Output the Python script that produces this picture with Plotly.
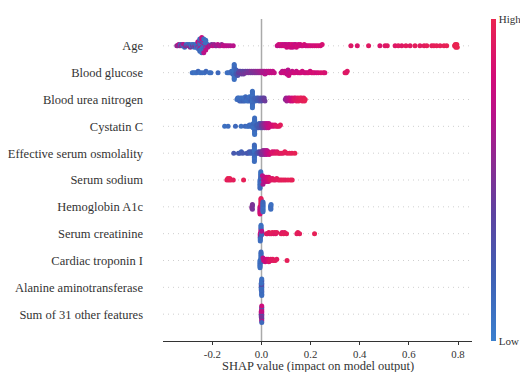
import numpy as np
import plotly.graph_objects as go

feature_names = ["Age", "Blood glucose", "Blood urea nitrogen", "Cystatin C",
                 "Effective serum osmolality", "Serum sodium", "Hemoglobin A1c",
                 "Serum creatinine", "Cardiac troponin I", "Alanine aminotransferase",
                 "Sum of 31 other features"]
x_tickvals = [-0.2, 0.0, 0.2, 0.4, 0.6, 0.8]
x_ticktext = ["-0.2", "0.0", "0.2", "0.4", "0.6", "0.8"]
x_title = "SHAP value (impact on model output)"

# ---------------- Age ----------------
age_shap = ([-0.345, -0.341, -0.337, -0.333, -0.330, -0.327, -0.323, -0.320, -0.317, -0.313, -0.310, -0.306, -0.303,
             -0.300, -0.296, -0.293, -0.290, -0.286, -0.283, -0.280, -0.277, -0.274, -0.271, -0.268, -0.265, -0.262]
            + [-0.259, -0.259, -0.259, -0.259, -0.259]
            + [-0.251, -0.251, -0.251, -0.251, -0.251, -0.251, -0.251, -0.251, -0.251, -0.251]
            + [-0.243, -0.243, -0.243, -0.243, -0.243, -0.243, -0.243, -0.243, -0.243, -0.243, -0.243, -0.243]
            + [-0.235, -0.235, -0.235, -0.235, -0.235, -0.235, -0.235, -0.235, -0.235, -0.235, -0.235]
            + [-0.227, -0.227, -0.227, -0.227, -0.227, -0.227, -0.227, -0.227]
            + [-0.219, -0.219, -0.219]
            + [-0.213, -0.208, -0.203, -0.198, -0.193, -0.188, -0.183, -0.178, -0.173, -0.168, -0.162, -0.156, -0.150,
               -0.143, -0.135, -0.126, -0.115]
            + [0.064, 0.070, 0.075, 0.079, 0.083, 0.087, 0.091, 0.094, 0.097, 0.100, 0.103, 0.106, 0.109, 0.112,
               0.115, 0.118, 0.121, 0.124, 0.127, 0.130, 0.133, 0.136, 0.139, 0.142, 0.146, 0.150, 0.154, 0.158,
               0.163, 0.168, 0.174, 0.180, 0.186, 0.193, 0.200, 0.208, 0.216, 0.224, 0.232, 0.240, 0.247]
            + [0.364, 0.390, 0.436]
            + [0.482, 0.503, 0.512, 0.544, 0.557, 0.571, 0.588, 0.605, 0.625, 0.645, 0.662, 0.673, 0.693, 0.702,
               0.713, 0.727, 0.743, 0.754]
            + [0.786, 0.789, 0.791, 0.793, 0.795, 0.797])
age_val = ([0.55, 0.60, 0.72, 0.50, 0.15, 0.60, 0.50, 0.12, 0.70, 0.15, 0.55, 0.12, 0.50,
            0.10, 0.62, 0.15, 0.50, 0.10, 0.12, 0.55, 0.10, 0.15, 0.60, 0.12, 0.10, 0.15]
           + [0.10, 0.70, 0.12, 0.10, 0.75]
           + [0.10, 0.75, 0.10, 0.12, 0.70, 0.10, 0.10, 0.72, 0.15, 0.10]
           + [0.12, 0.10, 0.75, 0.10, 0.10, 0.70, 0.10, 0.15, 0.10, 0.72, 0.10, 0.78]
           + [0.10, 0.12, 0.10, 0.72, 0.10, 0.10, 0.15, 0.75, 0.10, 0.10, 0.70]
           + [0.10, 0.15, 0.70, 0.10, 0.12, 0.10, 0.75, 0.10]
           + [0.60, 0.10, 0.70]
           + [0.60, 0.72, 0.50, 0.75, 0.60, 0.70, 0.55, 0.72, 0.65, 0.70, 0.60, 0.75, 0.70, 0.72, 0.70, 0.68, 0.70]
           + [0.75, 0.80, 0.72, 0.85, 0.78, 0.74, 0.80, 0.76, 0.82, 0.75, 0.78, 0.80, 0.74, 0.82,
              0.76, 0.80, 0.78, 0.84, 0.75, 0.80, 0.78, 0.82, 0.76, 0.80, 0.84, 0.78, 0.80, 0.82,
              0.76, 0.80, 0.84, 0.78, 0.82, 0.80, 0.85, 0.80, 0.84, 0.82, 0.86, 0.82, 0.85]
           + [0.90, 0.88, 0.92]
           + [0.88, 0.90, 0.92, 0.90, 0.93, 0.91, 0.94, 0.92, 0.95, 0.93, 0.94, 0.96, 0.95,
              0.96, 0.97, 0.96, 0.97, 0.98]
           + [0.98, 1.00, 0.97, 1.00, 0.99, 1.00])

# ---------------- Blood glucose ----------------
bg_shap = ([-0.282, -0.276, -0.270, -0.264, -0.258, -0.250, -0.242, -0.232, -0.226, -0.212, -0.206, -0.177,
            -0.140, -0.134, -0.128, -0.122]
           + [-0.117, -0.117, -0.117,
              -0.111, -0.111, -0.111, -0.111, -0.111, -0.111, -0.111, -0.111, -0.111, -0.111, -0.111, -0.111,
              -0.103, -0.103, -0.103, -0.103]
           + [-0.097, -0.094, -0.091, -0.088, -0.085, -0.082, -0.079, -0.076, -0.073, -0.070, -0.066, -0.062,
              -0.058, -0.054, -0.050, -0.046, -0.042, -0.038, -0.034, -0.030, -0.026, -0.022, -0.018, -0.014,
              -0.010, -0.006, -0.003]
           + [0.002, 0.005, 0.008, 0.011, 0.014, 0.017, 0.020, 0.024, 0.028, 0.032, 0.036, 0.041, 0.046, 0.052]
           + [0.080, 0.085, 0.090, 0.094, 0.098, 0.101, 0.103, 0.104, 0.105, 0.106, 0.108, 0.111, 0.115, 0.120,
              0.125, 0.130, 0.136, 0.142, 0.148, 0.154, 0.160, 0.166]
           + [0.174, 0.180, 0.186, 0.192, 0.198, 0.204, 0.210, 0.216, 0.224, 0.232, 0.242, 0.252, 0.258]
           + [0.340, 0.345, 0.349])
bg_val = ([0.10, 0.12, 0.08, 0.10, 0.15, 0.10, 0.12, 0.10, 0.15, 0.10, 0.12, 0.15, 0.10, 0.12, 0.10, 0.15]
          + [0.12, 0.10, 0.15,
             0.10, 0.12, 0.10, 0.10, 0.15, 0.10, 0.12, 0.10, 0.10, 0.15, 0.10, 0.12,
             0.20, 0.15, 0.25, 0.18]
          + [0.30, 0.40, 0.35, 0.45, 0.38, 0.42, 0.50, 0.40, 0.45, 0.48, 0.42, 0.50, 0.45, 0.52,
             0.48, 0.50, 0.55, 0.47, 0.52, 0.50, 0.55, 0.52, 0.58, 0.55, 0.60, 0.58, 0.62]
          + [0.62, 0.65, 0.68, 0.64, 0.70, 0.66, 0.72, 0.68, 0.70, 0.74, 0.72, 0.75, 0.73, 0.76]
          + [0.75, 0.72, 0.78, 0.74, 0.80, 0.76, 0.72, 0.78, 0.82, 0.75, 0.70, 0.78, 0.76, 0.80,
             0.74, 0.78, 0.82, 0.76, 0.80, 0.78, 0.82, 0.80]
          + [0.80, 0.82, 0.78, 0.84, 0.80, 0.85, 0.82, 0.86, 0.80, 0.84, 0.86, 0.88, 0.85]
          + [0.90, 0.92, 0.90])

# ---------------- Blood urea nitrogen ----------------
bun_shap = ([-0.100, -0.097, -0.094, -0.092, -0.089, -0.087, -0.084, -0.082, -0.079, -0.077, -0.075, -0.072, -0.070,
             -0.068, -0.065, -0.063, -0.061, -0.058, -0.056, -0.054, -0.051, -0.049, -0.047, -0.045, -0.043, -0.041]
            + [-0.037, -0.037, -0.037, -0.037, -0.037, -0.037, -0.037, -0.037, -0.037, -0.037, -0.037, -0.037, -0.037]
            + [-0.031, -0.028, -0.025, -0.022, -0.019, -0.016, -0.013, -0.010, -0.007, -0.004, -0.001, 0.002,
               0.005, 0.008, 0.011, 0.014]
            + [0.097, 0.100, 0.103, 0.106, 0.109, 0.112, 0.115, 0.118, 0.121, 0.124, 0.127, 0.130, 0.133, 0.136,
               0.139, 0.142, 0.145, 0.148, 0.151, 0.154, 0.157, 0.160, 0.163, 0.166, 0.169, 0.172, 0.175, 0.178])
bun_val = ([0.10, 0.15, 0.12, 0.10, 0.18, 0.12, 0.10, 0.15, 0.12, 0.10, 0.20, 0.12, 0.10,
            0.15, 0.12, 0.10, 0.18, 0.12, 0.10, 0.15, 0.12, 0.10, 0.15, 0.12, 0.18, 0.15]
           + [0.10, 0.12, 0.10, 0.15, 0.10, 0.12, 0.10, 0.10, 0.15, 0.12, 0.10, 0.12, 0.10]
           + [0.15, 0.18, 0.15, 0.20, 0.18, 0.22, 0.25, 0.22, 0.28, 0.30, 0.32, 0.35, 0.38, 0.40, 0.42, 0.45]
           + [0.55, 0.60, 0.62, 0.65, 0.68, 0.70, 0.72, 0.75, 0.78, 0.80, 0.82, 0.85, 0.88, 0.90,
              0.88, 0.92, 0.90, 0.93, 0.95, 0.92, 0.95, 0.93, 0.96, 0.95, 0.97, 0.95, 0.96, 0.98])

# ---------------- Cystatin C ----------------
cys_shap = ([-0.150, -0.136, -0.106, -0.083, -0.067, -0.058, -0.053, -0.049, -0.045, -0.042, -0.039, -0.036,
             -0.034, -0.033]
            + [-0.028, -0.028, -0.028, -0.028, -0.028, -0.028, -0.028, -0.028, -0.028, -0.028, -0.028, -0.028, -0.028]
            + [-0.022, -0.020, -0.018, -0.016, -0.014, -0.012, -0.010, -0.008, -0.006, -0.004, -0.002]
            + [0.000, 0.002, 0.004, 0.006, 0.008, 0.010, 0.012, 0.014, 0.016, 0.018, 0.020, 0.022, 0.024, 0.026,
               0.028, 0.030]
            + [0.034, 0.038, 0.042, 0.046, 0.050]
            + [0.055, 0.060, 0.066, 0.072, 0.077])
cys_val = ([0.10, 0.12, 0.15, 0.10, 0.15, 0.12, 0.10, 0.15, 0.12, 0.10, 0.15, 0.12, 0.10, 0.15]
           + [0.10, 0.12, 0.10, 0.15, 0.10, 0.12, 0.10, 0.10, 0.15, 0.12, 0.10, 0.12, 0.10]
           + [0.15, 0.20, 0.15, 0.22, 0.18, 0.25, 0.20, 0.28, 0.25, 0.30, 0.35]
           + [0.40, 0.45, 0.42, 0.50, 0.48, 0.55, 0.52, 0.60, 0.58, 0.65, 0.62, 0.70, 0.68, 0.72, 0.75, 0.72]
           + [0.78, 0.80, 0.82, 0.85, 0.84]
           + [0.88, 0.90, 0.92, 0.90, 0.94])

# ---------------- Effective serum osmolality ----------------
eso_shap = ([-0.113, -0.094, -0.088, -0.082, -0.076, -0.060, -0.055, -0.050, -0.046, -0.042, -0.038, -0.035]
            + [-0.029, -0.029, -0.029, -0.029, -0.029, -0.029, -0.029, -0.029, -0.029, -0.029, -0.029, -0.029, -0.029]
            + [-0.020, -0.016, -0.012, -0.008, -0.005, -0.002, 0.000, 0.002, 0.004, 0.006, 0.008, 0.010, 0.012,
               0.014, 0.016, 0.018, 0.020, 0.022, 0.025, 0.028, 0.031, 0.034]
            + [0.040, 0.044, 0.048, 0.053, 0.058, 0.063, 0.068, 0.074, 0.080, 0.088, 0.095, 0.104, 0.114, 0.124,
               0.136])
eso_val = ([0.25, 0.22, 0.25, 0.20, 0.25, 0.22, 0.28, 0.25, 0.20, 0.22, 0.18, 0.20]
           + [0.12, 0.10, 0.15, 0.10, 0.12, 0.10, 0.15, 0.10, 0.12, 0.10, 0.10, 0.15, 0.12]
           + [0.20, 0.25, 0.30, 0.35, 0.40, 0.45, 0.48, 0.50, 0.52, 0.55, 0.50, 0.58, 0.55,
              0.60, 0.62, 0.65, 0.68, 0.70, 0.72, 0.75, 0.78, 0.80]
           + [0.85, 0.88, 0.90, 0.86, 0.92, 0.90, 0.94, 0.92, 0.95, 0.93, 0.96, 0.95, 0.97, 0.96, 0.98])

# ---------------- Serum sodium ----------------
na_shap = ([-0.141, -0.137, -0.133, -0.129, -0.125, -0.115, -0.073]
           + [-0.006, -0.003, -0.006, -0.003, -0.006, -0.003, -0.006, -0.003, -0.006, -0.003, -0.006, -0.003, -0.006]
           + [0.001, 0.001, 0.001, 0.001, 0.001]
           + [0.004, 0.006, 0.008, 0.010, 0.012, 0.014, 0.016, 0.018, 0.020, 0.022, 0.024, 0.026, 0.028, 0.030]
           + [0.033, 0.036, 0.040, 0.045, 0.050, 0.056, 0.062, 0.068, 0.075, 0.082, 0.090, 0.098, 0.108, 0.118,
              0.125])
na_val = ([0.95, 0.97, 0.95, 0.98, 0.96, 0.95, 0.97]
          + [0.10, 0.12, 0.10, 0.15, 0.10, 0.30, 0.12, 0.10, 0.15, 0.10, 0.12, 0.10, 0.15]
          + [0.12, 0.10, 0.35, 0.12, 0.10]
          + [0.70, 0.65, 0.75, 0.60, 0.72, 0.78, 0.70, 0.80, 0.75, 0.82, 0.78, 0.85, 0.80, 0.85]
          + [0.88, 0.90, 0.92, 0.90, 0.94, 0.92, 0.95, 0.93, 0.96, 0.95, 0.97, 0.95, 0.96, 0.98, 0.97])

# ---------------- Hemoglobin A1c ----------------
hba_shap = ([-0.039, -0.037, -0.039, -0.037, -0.037]
            + [-0.006, -0.002, -0.006, -0.002, -0.006, -0.002, -0.006, -0.002, -0.006, -0.002, -0.006, -0.002,
               -0.006, -0.002]
            + [0.006, 0.006, 0.006, 0.006, 0.006, 0.006, 0.006, 0.006, 0.006]
            + [0.037, 0.038, 0.038, 0.039, 0.038])
hba_val = ([0.50, 0.45, 0.55, 0.50, 0.48]
           + [0.80, 0.95, 0.75, 0.92, 0.78, 0.95, 0.72, 0.90, 0.80, 0.97, 0.75, 0.92, 0.85, 0.95]
           + [0.10, 0.12, 0.10, 0.15, 0.10, 0.12, 0.10, 0.15, 0.12]
           + [0.10, 0.12, 0.15, 0.10, 0.12])

# ---------------- Serum creatinine ----------------
cr_shap = ([-0.005, -0.002, -0.005, -0.002, -0.005, -0.002, -0.005, -0.002, -0.005, -0.002, -0.005, -0.002,
            -0.005, -0.002]
           + [0.001, 0.001, 0.001, 0.001]
           + [0.020, 0.024, 0.030, 0.034, 0.040, 0.044, 0.050, 0.054, 0.058, 0.062, 0.080, 0.084, 0.090, 0.094,
              0.102, 0.144, 0.148, 0.155, 0.216])
cr_val = ([0.75, 0.70, 0.80, 0.72, 0.65, 0.78, 0.50, 0.40, 0.15, 0.12, 0.10, 0.10, 0.12, 0.10]
          + [0.12, 0.10, 0.15, 0.70]
          + [0.90, 0.92, 0.95, 0.90, 0.93, 0.96, 0.92, 0.95, 0.90, 0.94, 0.95, 0.92, 0.96, 0.93,
             0.95, 0.94, 0.96, 0.95, 0.97])

# ---------------- Cardiac troponin I ----------------
tn_shap = ([-0.006, -0.002, -0.006, -0.002, -0.006, -0.002, -0.006, -0.002, -0.006, -0.002, -0.006, -0.002,
            -0.006, -0.002]
           + [0.001, 0.001, 0.001]
           + [0.006, 0.009, 0.012, 0.015, 0.018, 0.021, 0.024, 0.027, 0.030, 0.034, 0.038, 0.042, 0.046, 0.050,
              0.056, 0.062, 0.104])
tn_val = ([0.10, 0.12, 0.10, 0.15, 0.10, 0.12, 0.10, 0.10, 0.15, 0.12, 0.10, 0.12, 0.10, 0.15]
          + [0.12, 0.10, 0.15]
          + [0.75, 0.78, 0.72, 0.80, 0.78, 0.82, 0.80, 0.85, 0.88, 0.90, 0.92, 0.90, 0.94, 0.92,
             0.95, 0.93, 0.96])

# ---------------- Alanine aminotransferase ----------------
alt_shap = ([0.001, 0.001, 0.001, 0.001, 0.001, 0.001, 0.001, 0.001, 0.001, 0.001, 0.001, 0.001, 0.001]
            + [-0.001, -0.001, -0.001, -0.001, -0.001, -0.001])
alt_val = ([0.10, 0.30, 0.12, 0.35, 0.10, 0.15, 0.40, 0.12, 0.10, 0.30, 0.15, 0.10, 0.12]
           + [0.15, 0.30, 0.10, 0.35, 0.12, 0.10])

# ---------------- Sum of 31 other features ----------------
oth_shap = ([0.001, 0.001, 0.001, 0.001, 0.001, 0.001, 0.001, 0.001, 0.001, 0.001, 0.001, 0.001, 0.001]
            + [-0.001, -0.001, -0.001, -0.001, -0.001])
oth_val = ([0.60, 0.75, 0.50, 0.80, 0.45, 0.70, 0.25, 0.78, 0.55, 0.20, 0.72, 0.80, 0.15]
           + [0.60, 0.70, 0.30, 0.75, 0.50])

series = [(age_shap, age_val), (bg_shap, bg_val), (bun_shap, bun_val), (cys_shap, cys_val),
          (eso_shap, eso_val), (na_shap, na_val), (hba_shap, hba_val), (cr_shap, cr_val),
          (tn_shap, tn_val), (alt_shap, alt_val), (oth_shap, oth_val)]

colorscale = [[0.0, '#3b80ce'], [0.2, '#3f60b4'], [0.4, '#5e42a0'], [0.55, '#8a2c92'],
              [0.7, '#b8128a'], [0.82, '#d20c78'], [1.0, '#ea2450']]

FONT = "Liberation Serif"
TXT = '#333333'


def swarm(x, row_height=0.4, bw=0.008):
    x = np.asarray(x, float)
    quant = np.floor(x / bw)
    order = np.argsort(quant, kind='stable')
    ys = np.zeros(len(x))
    layer, last = 0, None
    for i in order:
        if quant[i] != last:
            layer = 0
        ys[i] = np.ceil(layer / 2) * ((layer % 2) * 2 - 1)
        layer += 1
        last = quant[i]
    ys *= 0.9 * (row_height / np.max(ys + 1))
    return ys


n = len(feature_names)
fig = go.Figure()
for k, (name, (sx, sv)) in enumerate(zip(feature_names, series)):
    assert len(sx) == len(sv), name
    row = n - 1 - k
    y = row + swarm(sx)
    fig.add_trace(go.Scatter(x=sx, y=y, mode='markers', name=name, showlegend=False,
                             marker=dict(size=5, color=sv, coloraxis='coloraxis', line=dict(width=0)),
                             hoverinfo='skip'))

shapes = []
for r in range(n):
    shapes.append(dict(type='line', xref='x domain', yref='y', x0=0, x1=1, y0=r, y1=r,
                       line=dict(color='#cfcfcf', width=1, dash='1px,4px'), layer='below'))
shapes.append(dict(type='line', xref='x', yref='y domain', x0=0, x1=0, y0=0, y1=1,
                   line=dict(color='#aaaaaa', width=1.5), layer='below'))

fig.update_layout(
    width=520, height=372,
    margin=dict(l=163, r=48, t=19, b=31, autoexpand=False),
    paper_bgcolor='white', plot_bgcolor='white',
    font=dict(family=FONT, color=TXT),
    shapes=shapes,
    annotations=[dict(text=x_title, xref='paper', yref='paper', x=0.5, y=-0.0785,
                      xanchor='center', yanchor='middle', showarrow=False,
                      font=dict(family=FONT, size=12.5, color=TXT))],
    coloraxis=dict(colorscale=colorscale, cmin=0, cmax=1,
                   colorbar=dict(thickness=5, len=1, lenmode='fraction', x=1.0615, xanchor='left',
                                 y=0.5, yanchor='middle', outlinewidth=0, xpad=0, ypad=0,
                                 tickvals=[0, 1], ticktext=['Low', 'High'], ticks='',
                                 tickfont=dict(family=FONT, size=11, color=TXT))),
    xaxis=dict(range=[-0.401, 0.857], tickvals=x_tickvals, ticktext=x_ticktext,
               showline=True, linecolor='#333333', linewidth=1, ticks='outside', ticklen=3,
               tickcolor='#333333', showgrid=False, zeroline=False, automargin=False,
               tickfont=dict(family=FONT, size=10.8, color=TXT)),
    yaxis=dict(range=[-1, n], tickvals=list(range(n)), ticktext=feature_names[::-1],
               showline=False, showgrid=False, zeroline=False, ticks='', automargin=False,
               ticklabelstandoff=19,
               tickfont=dict(family=FONT, size=12.5, color=TXT)),
)

fig.write_html("out.html", config={'displayModeBar': False},
               post_script="document.body.style.margin='0';document.body.style.padding='0';")
